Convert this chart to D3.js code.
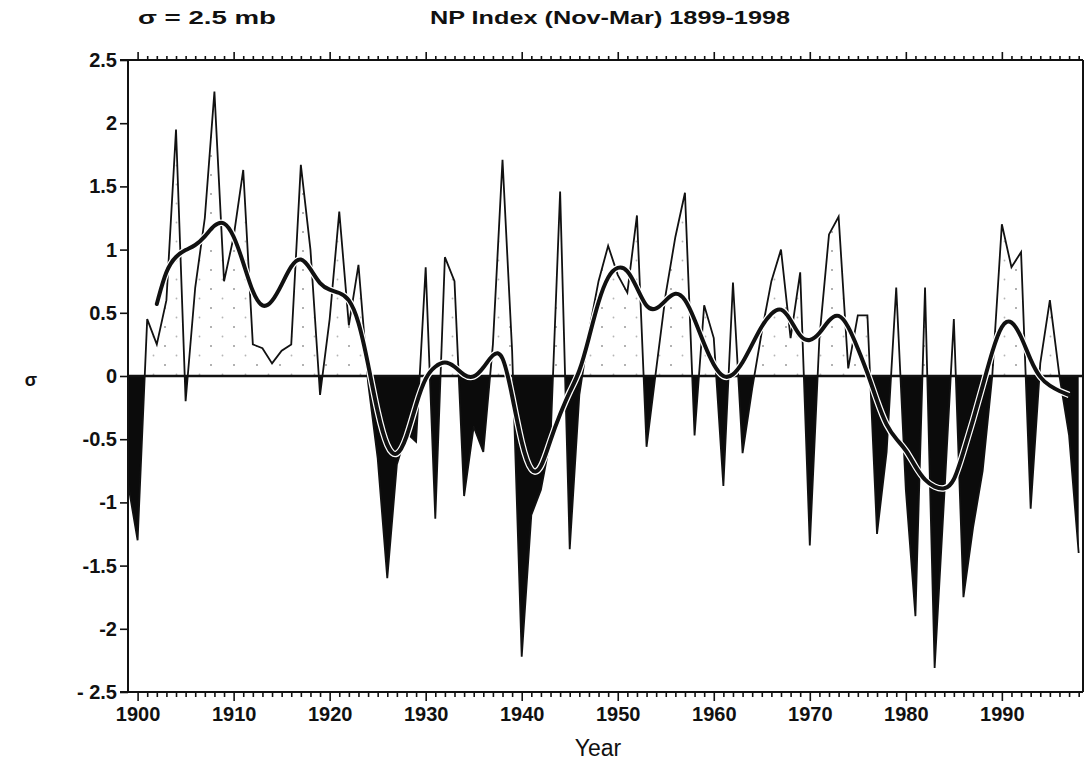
<!DOCTYPE html>
<html>
<head>
<meta charset="utf-8">
<script src="https://cdn.jsdelivr.net/npm/d3@7"></script>
<style>
  html, body { margin: 0; padding: 0; background: #fff; }
  svg { display: block; }
  text { font-family: "Liberation Sans", "DejaVu Sans", sans-serif; fill: #111; }
</style>
</head>
<body>
<svg id="chart" width="1086" height="768"></svg>
<script>
// ---------------- data ----------------
const years = d3.range(1899, 1999);
const npIndex = [
  -0.85, -1.30, 0.45, 0.25, 0.60, 1.95, -0.20, 0.70, 1.25, 2.25,   // 1899-1908
   0.75, 1.10, 1.63, 0.25, 0.22, 0.10, 0.20, 0.25, 1.67, 1.00,     // 1909-1918
  -0.15, 0.45, 1.30, 0.40, 0.88, -0.05, -0.65, -1.60, -0.70, -0.45, // 1919-1928
  -0.52, 0.86, -1.13, 0.94, 0.75, -0.95, -0.40, -0.60, 0.25, 1.71, // 1929-1938
   0.20, -2.22, -1.10, -0.90, -0.50, 1.46, -1.37, -0.15, 0.35, 0.75, // 1939-1948
   1.03, 0.80, 0.66, 1.27, -0.56, 0.05, 0.65, 1.10, 1.45, -0.47,    // 1949-1958
   0.56, 0.30, -0.87, 0.74, -0.61, -0.10, 0.35, 0.75, 1.00, 0.30,   // 1959-1968
   0.82, -1.34, 0.30, 1.12, 1.26, 0.06, 0.48, 0.48, -1.25, -0.60,   // 1969-1978
   0.70, -0.90, -1.90, 0.70, -2.31, -0.95, 0.45, -1.75, -1.20, -0.75, // 1979-1988
   0.00, 1.20, 0.86, 0.98, -1.05, 0.10, 0.60, 0.00, -0.47, -1.40    // 1989-1998
];
const smoothYears = d3.range(1902, 1998);
const npSmooth = [
  0.57, 0.85, 0.95, 1.00, 1.03, 1.10, 1.20, 1.23,                  // 1902-1909
  1.12, 0.90, 0.65, 0.53, 0.58, 0.72, 0.88, 0.95, 0.85, 0.72,      // 1910-1919
  0.68, 0.66, 0.62, 0.45, 0.10, -0.30, -0.58, -0.65, -0.50, -0.22, // 1920-1929
  0.00, 0.08, 0.12, 0.08, 0.00, -0.02, 0.06, 0.18, 0.20, -0.15,    // 1930-1939
  -0.55, -0.78, -0.75, -0.50, -0.30, -0.12, 0.02, 0.30, 0.60, 0.80, // 1940-1949
  0.87, 0.85, 0.70, 0.53, 0.52, 0.60, 0.67, 0.62, 0.45, 0.25,      // 1950-1959
  0.08, -0.02, 0.00, 0.10, 0.25, 0.40, 0.50, 0.55, 0.45, 0.30,     // 1960-1969
  0.27, 0.33, 0.45, 0.50, 0.40, 0.22, 0.03, -0.20, -0.40, -0.50,   // 1970-1979
  -0.58, -0.72, -0.83, -0.88, -0.90, -0.85, -0.60, -0.35, -0.08, 0.20, // 1980-1989
  0.42, 0.45, 0.32, 0.12, -0.02, -0.08, -0.12, -0.15               // 1990-1997
];
const yTickValues = [2.5, 2, 1.5, 1, 0.5, 0, -0.5, -1, -1.5, -2, -2.5];
const yTickLabels = ["2.5", "2", "1.5", "1", "0.5", "0", "-0.5", "-1", "-1.5", "-2", "- 2.5"];
const decadeTicks = d3.range(1900, 1991, 10);
const titleLeft = "\u03C3 = 2.5 mb";
const titleMain = "NP Index  (Nov-Mar) 1899-1998";
const xLabel = "Year";
const yLabel = "\u03C3";

// ---------------- layout ----------------
const svg = d3.select("#chart");
const L = 128, R = 1083, T = 60, B = 692;
const x = d3.scaleLinear().domain([1899, 1998.45]).range([L, R]);
const y = d3.scaleLinear().domain([-2.5, 2.5]).range([B, T]);

const series = years.map((yr, i) => ({ yr, v: npIndex[i] }));
const smooth = smoothYears.map((yr, i) => ({ yr, v: npSmooth[i] }));

const defs = svg.append("defs");
const pat = defs.append("pattern").attr("id", "stip")
  .attr("patternUnits", "userSpaceOnUse").attr("width", 23).attr("height", 19);
pat.append("rect").attr("width", 23).attr("height", 19).attr("fill", "#fff");
pat.append("circle").attr("cx", 4).attr("cy", 4).attr("r", 1.0).attr("fill", "#999");
pat.append("circle").attr("cx", 15.5).attr("cy", 13.5).attr("r", 0.9).attr("fill", "#b5b5b5");

defs.append("clipPath").attr("id", "clipPos").append("rect")
  .attr("x", L).attr("y", T).attr("width", R - L).attr("height", y(0) - T);
defs.append("clipPath").attr("id", "clipNeg").append("rect")
  .attr("x", L).attr("y", y(0)).attr("width", R - L).attr("height", B - y(0));

const area = d3.area().x(d => x(d.yr)).y0(y(0)).y1(d => y(d.v));
const line = d3.line().x(d => x(d.yr)).y(d => y(d.v));

// positive fill (stippled)
svg.append("path").datum(series).attr("d", area)
  .attr("fill", "url(#stip)").attr("clip-path", "url(#clipPos)");
// negative fill (black)
svg.append("path").datum(series).attr("d", area)
  .attr("fill", "#0b0b0b").attr("clip-path", "url(#clipNeg)");

// zero line
svg.append("line").attr("x1", L).attr("x2", R).attr("y1", y(0)).attr("y2", y(0))
  .attr("stroke", "#111").attr("stroke-width", 2.5);

// annual line
svg.append("path").datum(series).attr("d", line)
  .attr("fill", "none").attr("stroke", "#111").attr("stroke-width", 1.8)
  .attr("stroke-linejoin", "miter");

// smoothed curve with white halo
const sline = d3.line().x(d => x(d.yr)).y(d => y(d.v)).curve(d3.curveBasis);
svg.append("path").datum(smooth).attr("d", sline)
  .attr("fill", "none").attr("stroke", "#fff").attr("stroke-width", 6.5);
svg.append("path").datum(smooth).attr("d", sline)
  .attr("fill", "none").attr("stroke", "#111").attr("stroke-width", 4)
  .attr("stroke-linecap", "round");

// ---------------- axes ----------------
const axisStyle = g => {
  g.selectAll(".domain").remove();
  g.selectAll("line").attr("stroke", "#111").attr("stroke-width", 1.6);
};
svg.append("line").attr("x1", L).attr("x2", L).attr("y1", T).attr("y2", B).attr("stroke", "#111").attr("stroke-width", 2);
svg.append("line").attr("x1", R).attr("x2", R).attr("y1", T).attr("y2", B).attr("stroke", "#111").attr("stroke-width", 2);
svg.append("line").attr("x1", L - 8).attr("x2", R).attr("y1", T).attr("y2", T).attr("stroke", "#111").attr("stroke-width", 2);
svg.append("line").attr("x1", L - 8).attr("x2", R).attr("y1", B).attr("y2", B).attr("stroke", "#111").attr("stroke-width", 2);

const minorYears = d3.range(1900, 1999).filter(v => v % 10 !== 0);
const labelStyle = g => g.selectAll("text").attr("font-size", 20).attr("fill", "#111")
  .style("font-family", "Liberation Sans, DejaVu Sans, sans-serif").style("font-weight", "bold");

svg.append("g").attr("transform", `translate(0,${B})`)
  .call(d3.axisBottom(x).tickValues(minorYears).tickSize(5).tickFormat(""))
  .call(axisStyle);
svg.append("g").attr("transform", `translate(0,${B})`)
  .call(d3.axisBottom(x).tickValues(decadeTicks).tickSize(9).tickPadding(6).tickFormat(d3.format("d")))
  .call(axisStyle).call(labelStyle);
svg.append("g").attr("transform", `translate(0,${T})`)
  .call(d3.axisTop(x).tickValues(minorYears).tickSize(4).tickFormat(""))
  .call(axisStyle);
svg.append("g").attr("transform", `translate(0,${T})`)
  .call(d3.axisTop(x).tickValues(decadeTicks).tickSize(8).tickFormat(""))
  .call(axisStyle);
svg.append("g").attr("transform", `translate(${L},0)`)
  .call(d3.axisLeft(y).tickValues(yTickValues).tickSize(8).tickPadding(3)
    .tickFormat((d, i) => yTickLabels[i]))
  .call(axisStyle).call(labelStyle);

// ---------------- titles ----------------
svg.append("text").attr("x", 138).attr("y", 24).attr("font-size", 18).style("font-weight", "bold")
  .attr("textLength", 138).attr("lengthAdjust", "spacingAndGlyphs").text(titleLeft);
svg.append("text").attr("x", 430).attr("y", 24).attr("font-size", 18).style("font-weight", "bold")
  .attr("textLength", 360).attr("lengthAdjust", "spacingAndGlyphs").text(titleMain);
svg.append("text").attr("x", 598).attr("y", 756).attr("text-anchor", "middle")
  .attr("font-size", 23).style("font-weight", "normal").text(xLabel);
svg.append("text").attr("x", 31).attr("y", 386).attr("text-anchor", "middle")
  .attr("font-size", 18).style("font-weight", "bold").text(yLabel);
</script>
</body>
</html>
